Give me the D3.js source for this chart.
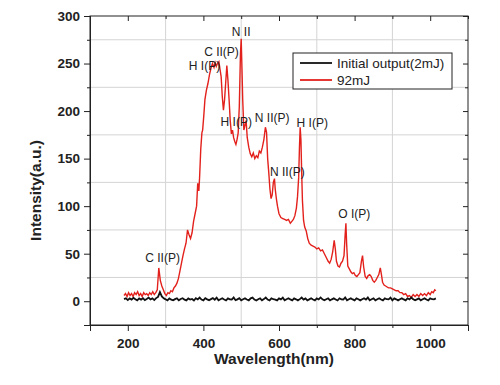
<!DOCTYPE html>
<html>
<head>
<meta charset="utf-8">
<script src="https://cdn.jsdelivr.net/npm/d3@7"></script>
<style>
  body { margin: 0; background: #fff; }
  svg text { font-family: "Liberation Sans", Arial, sans-serif; fill: #222; }
</style>
</head>
<body>
<div id="chart"></div>
<script>
// Spectrum of the 92mJ pulse [wavelength nm, intensity a.u.]
const red92 = [
  [190,6],[194,8],[198,5],[202,9],[206,6],[210,8],[214,5],[218,9],[222,7],[226,10],[230,6],[234,8],
  [238,5],[242,9],[246,7],[250,8],[254,6],[258,9],[262,7],[266,10],[270,7],[274,9],[278,12],[282,35],
  [286,22],[290,16],[294,12],[298,8],[302,6],[306,9],[310,8],[314,11],[318,10],[322,14],[326,16],[330,19],
  [334,24],[338,32],[342,40],[346,48],[350,55],[354,61],[358,75],[362,70],[366,66],[370,72],[374,84],
  [378,92],[382,100],[385,124],[388,116],[390,131],[393,160],[396,177],[398,180],[401,195],[404,212],
  [408,222],[412,229],[416,238],[420,245],[424,250],[428,246],[431,251],[434,247],[437,250],[441,252],
  [444,244],[447,236],[450,215],[453,201],[456,212],[459,230],[462,248],[465,232],[468,212],[471,190],
  [474,176],[477,180],[480,172],[483,168],[486,165],[489,170],[492,177],[495,205],[498,260],[500,276],
  [502,245],[504,212],[507,180],[510,185],[513,190],[516,172],[520,162],[524,155],[528,152],[532,156],
  [536,150],[540,153],[544,151],[548,158],[552,156],[556,162],[560,170],[564,183],[567,178],[570,150],
  [573,135],[576,118],[579,108],[582,112],[585,125],[588,129],[590,118],[593,108],[596,100],[600,92],
  [605,88],[610,87],[615,86],[620,85],[625,86],[630,82],[634,84],[638,86],[642,90],[646,98],[649,110],
  [652,130],[654,160],[656,183],[658,170],[660,135],[662,106],[665,85],[668,78],[672,74],[676,66],
  [680,61],[685,59],[690,58],[695,57],[700,55],[705,56],[710,53],[715,54],[720,50],[725,46],[730,42],
  [734,40],[738,44],[742,52],[746,64],[749,55],[752,42],[756,37],[760,36],[764,40],[768,42],[772,48],
  [775,70],[777,82],[779,60],[782,37],[786,34],[790,31],[794,29],[798,30],[802,27],[806,26],[810,28],
  [814,30],[818,42],[821,48],[824,36],[828,26],[832,24],[836,27],[840,28],[844,26],[848,22],[852,20],
  [856,22],[860,25],[864,28],[868,35],[871,28],[874,20],[878,17],[882,16],[886,15],[890,14],[895,14],
  [900,13],[905,12],[910,11],[915,11],[920,9],[925,9],[930,7],[935,8],[940,5],[945,6],[950,4],[955,7],
  [960,5],[965,7],[970,5],[975,8],[980,6],[985,8],[990,6],[995,9],[1000,7],[1004,10],[1008,9],
  [1012,12],[1015,11]
];

// Initial output (2mJ), flat noisy baseline
const black2 = [
  [190,2.2],[195,3.1],[200,1.2],[205,3.0],[210,1.8],[215,3.6],[220,2.1],[225,1.0],[230,2.9],[235,1.7],
  [240,3.2],[245,1.1],[250,2.4],[255,3.8],[260,1.9],[265,3.0],[270,1.2],[275,3.3],[280,4.5],[285,9.5],
  [290,5.0],[295,3.0],[300,2.0],[305,0.8],[310,2.9],[315,1.6],[320,0.9],[325,2.2],[330,3.1],[335,1.0],
  [340,2.3],[345,3.2],[350,1.7],[355,0.9],[360,3.0],[365,1.8],[370,2.4],[375,0.8],[380,3.1],[385,1.9],
  [390,3.9],[395,1.8],[400,0.9],[405,3.2],[410,2.0],[415,1.1],[420,2.2],[425,3.3],[430,1.6],[435,3.8],
  [440,1.0],[445,2.1],[450,3.1],[455,1.9],[460,0.8],[465,3.0],[470,2.0],[475,1.8],[480,3.9],[485,1.1],
  [490,2.0],[495,3.2],[500,0.9],[505,2.1],[510,3.0],[515,1.8],[520,0.9],[525,3.1],[530,3.8],[535,1.7],
  [540,0.8],[545,2.0],[550,3.1],[555,1.0],[560,2.2],[565,3.9],[570,1.8],[575,0.8],[580,3.0],[585,2.1],
  [590,1.7],[595,0.9],[600,3.0],[605,2.0],[610,3.8],[615,1.0],[620,2.1],[625,3.1],[630,1.9],[635,0.9],
  [640,3.0],[645,2.0],[650,0.9],[655,2.2],[660,3.9],[665,1.8],[670,3.0],[675,1.0],[680,2.0],[685,3.1],
  [690,1.8],[695,0.9],[700,3.0],[705,1.9],[710,4.0],[715,2.0],[720,1.0],[725,2.1],[730,3.1],[735,0.9],
  [740,2.0],[745,3.0],[750,1.9],[755,0.8],[760,3.1],[765,2.0],[770,1.8],[775,3.9],[780,1.0],[785,2.1],
  [790,3.0],[795,1.9],[800,0.9],[805,3.0],[810,2.1],[815,0.9],[820,2.0],[825,3.1],[830,1.8],[835,3.9],
  [840,1.0],[845,2.1],[850,3.0],[855,0.9],[860,2.0],[865,3.1],[870,1.8],[875,0.9],[880,3.0],[885,2.1],
  [890,1.9],[895,3.8],[900,1.0],[905,3.0],[910,2.0],[915,0.9],[920,2.1],[925,3.0],[930,1.9],[935,0.9],
  [940,3.1],[945,2.0],[950,3.9],[955,2.1],[960,1.0],[965,2.0],[970,3.0],[975,0.9],[980,2.1],[985,3.0],
  [990,1.9],[995,0.8],[1000,3.0],[1005,2.1],[1010,2.0],[1015,3.0]
];

const xTicks = [200, 400, 600, 800, 1000];
const xMinor = [100, 300, 500, 700, 900, 1100];
const yTicks = [0, 50, 100, 150, 200, 250, 300];
const yMinor = [-25, 25, 75, 125, 175, 225, 275];

// peak labels [text, wavelength, intensity]
const peakLabels = [
  ["N II", 500, 279], ["C II(P)", 448, 258], ["H I(P)", 403, 243],
  ["H I(P)", 487, 184], ["N II(P)", 582, 189], ["H I(P)", 688, 183],
  ["N II(P)", 622, 132], ["O I(P)", 799, 88], ["C II(P)", 292, 41]
];

const seriesNames = ["Initial output(2mJ)", "92mJ"];
const seriesColors = ["#111111", "#e3211c"];

const width = 500, height = 385;
const margin = { top: 16, right: 32, bottom: 60, left: 90 };

const svg = d3.select("#chart").append("svg")
  .attr("width", width)
  .attr("height", height);

const x = d3.scaleLinear().domain([100, 1100]).range([margin.left, width - margin.right]);
const y = d3.scaleLinear().domain([-25, 300]).range([height - margin.bottom, margin.top]);

// grid on the minor positions
svg.append("g").selectAll("line")
  .data(xMinor.slice(1, -1))
  .enter().append("line")
  .attr("x1", d => x(d)).attr("x2", d => x(d))
  .attr("y1", y(300)).attr("y2", y(-25))
  .attr("stroke", "#d4d4d4").attr("stroke-width", 1);

svg.append("g").selectAll("line")
  .data(yMinor.slice(1))
  .enter().append("line")
  .attr("x1", x(100)).attr("x2", x(1100))
  .attr("y1", d => y(d)).attr("y2", d => y(d))
  .attr("stroke", "#d4d4d4").attr("stroke-width", 1);

// axes
const axBottom = svg.append("g").attr("transform", `translate(0,${y(-25)})`)
  .call(d3.axisBottom(x).tickValues(xTicks).tickSize(6).tickPadding(7).tickFormat(d3.format("d")));
axBottom.append("g").call(d3.axisBottom(x).tickValues(xMinor).tickSize(3).tickFormat(""));

const axLeft = svg.append("g").attr("transform", `translate(${x(100)},0)`)
  .call(d3.axisLeft(y).tickValues(yTicks).tickSize(6).tickPadding(4));
axLeft.append("g").call(d3.axisLeft(y).tickValues(yMinor).tickSize(3).tickFormat(""));

const axTop = svg.append("g").attr("transform", `translate(0,${y(300)})`)
  .call(d3.axisBottom(x).tickValues(xTicks).tickSize(5).tickFormat(""));
axTop.append("g").call(d3.axisBottom(x).tickValues(xMinor).tickSize(3).tickFormat(""));

const axRight = svg.append("g").attr("transform", `translate(${x(1100)},0)`)
  .call(d3.axisLeft(y).tickValues(yTicks).tickSize(5).tickFormat(""));
axRight.append("g").call(d3.axisLeft(y).tickValues(yMinor).tickSize(3).tickFormat(""));

svg.selectAll(".domain").attr("stroke", "#222");
svg.selectAll(".tick line").attr("stroke", "#222");
[axBottom, axLeft].forEach(g => g.selectAll("text")
  .style("font-size", "13.5px").style("font-weight", "bold").attr("fill", "#222"));
axTop.selectAll(".domain").remove();
axRight.selectAll(".domain").remove();

// frame
svg.append("rect")
  .attr("x", x(100)).attr("y", y(300))
  .attr("width", x(1100) - x(100)).attr("height", y(-25) - y(300))
  .attr("fill", "none").attr("stroke", "#222").attr("stroke-width", 1);

// lines
const line = d3.line().x(d => x(d[0])).y(d => y(d[1]));

svg.append("path").datum(red92)
  .attr("d", line)
  .attr("fill", "none")
  .attr("stroke", seriesColors[1])
  .attr("stroke-width", 1.4);

svg.append("path").datum(black2)
  .attr("d", line)
  .attr("fill", "none")
  .attr("stroke", seriesColors[0])
  .attr("stroke-width", 1.8);

// peak labels
svg.append("g").selectAll("text")
  .data(peakLabels)
  .enter().append("text")
  .attr("x", d => x(d[1]))
  .attr("y", d => y(d[2]))
  .attr("text-anchor", "middle")
  .style("font-size", "12px")
  .text(d => d[0]);

// axis titles
svg.append("text")
  .attr("x", (x(100) + x(1100)) / 2 - 5)
  .attr("y", 364)
  .attr("text-anchor", "middle")
  .style("font-size", "15.5px").style("font-weight", "bold")
  .text("Wavelength(nm)");

svg.append("text")
  .attr("transform", `translate(41,${(y(300) + y(-25)) / 2 + 20}) rotate(-90)`)
  .attr("text-anchor", "middle")
  .style("font-size", "15.5px").style("font-weight", "bold")
  .text("Intensity(a.u.)");

// legend
const legend = svg.append("g").attr("transform", "translate(293,53)");
legend.append("rect")
  .attr("width", 159).attr("height", 36)
  .attr("fill", "#fff").attr("stroke", "#222").attr("stroke-width", 1);

seriesNames.forEach((name, i) => {
  const row = legend.append("g").attr("transform", `translate(0,${10 + i * 17})`);
  row.append("line")
    .attr("x1", 7).attr("x2", 39)
    .attr("stroke", seriesColors[i]).attr("stroke-width", 1.8);
  row.append("text")
    .attr("x", 44).attr("y", 5)
    .style("font-size", "13.5px")
    .text(name);
});
</script>
</body>
</html>
